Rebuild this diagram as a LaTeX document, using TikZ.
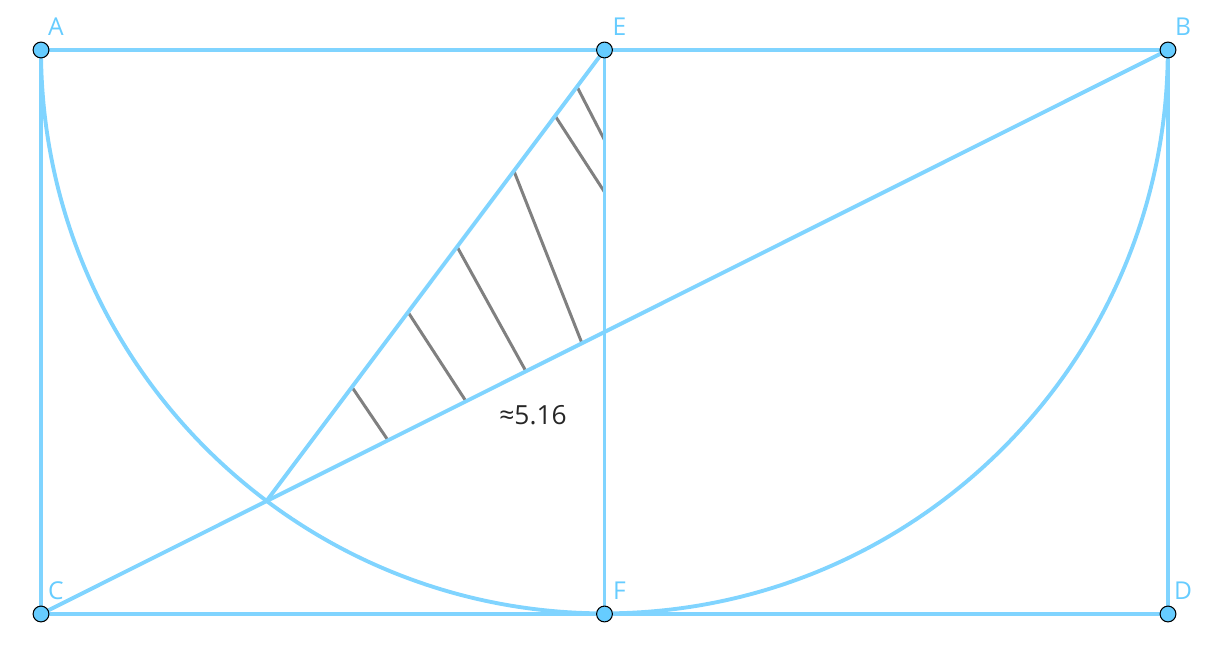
\documentclass[tikz,border=0pt]{standalone}
\usepackage{fontspec}
\setmainfont{Open Sans}
\usetikzlibrary{calc}
\definecolor{geoline}{RGB}{128,212,255}
\definecolor{geopt}{RGB}{102,204,255}
\definecolor{geolbl}{RGB}{102,204,255}
\definecolor{hatch}{RGB}{128,128,128}
\tikzset{
  segline/.style={draw=geoline, line width=2.2pt},
  hatchline/.style={draw=hatch, line width=1.7pt},
  pt/.style={circle, draw=black, line width=0.6pt, fill=geopt, inner sep=0pt, minimum size=9pt},
  lbl/.style={text=geolbl, font=\fontsize{14}{16}\selectfont, inner sep=0pt},
  valtext/.style={text=black!85, font=\fontsize{15}{18}\selectfont, inner sep=0pt}
}
\begin{document}
\begin{tikzpicture}[x=0.02cm, y=0.02cm]
\useasboundingbox (0,0) rectangle (1228,651);
% points (y up)
\coordinate (A) at (41,601);
\coordinate (E) at (604.5,601);
\coordinate (B) at (1168,601);
\coordinate (C) at (41,37);
\coordinate (F) at (604.5,37);
\coordinate (D) at (1168,37);
\coordinate (G) at ($(C)!0.2!(B)$);
% hatching
\draw[hatchline] ($(E)!0.747!(G)$) -- ($(C)!0.3079!(B)$);
\draw[hatchline] ($(E)!0.581!(G)$) -- ($(C)!0.3771!(B)$);
\draw[hatchline] ($(E)!0.436!(G)$) -- ($(C)!0.4303!(B)$);
\draw[hatchline] ($(E)!0.268!(G)$) -- ($(C)!0.4800!(B)$);
\draw[hatchline] ($(E)!0.146!(G)$) -- ($(E)!0.2518!(F)$);
\draw[hatchline] ($(E)!0.0813!(G)$) -- ($(E)!0.1596!(F)$);
% segments
\draw[segline] (A) -- (E) -- (B);
\draw[segline] (C) -- (F) -- (D);
\draw[segline] (A) -- (C);
\draw[segline] (B) -- (D);
\draw[segline] (E) -- (F);
\draw[segline] (C) -- (B);
\draw[segline] (E) -- (G);
\draw[segline] (A) arc[start angle=180, end angle=360, radius=11.27cm];
% point markers
\foreach \p in {A,E,B,C,F,D} \node[pt] (\p pt) at (\p) {};
% labels
\foreach \p in {A,E,B,C,F,D} \node[lbl] (\p lbl) at ($(\p)+(15,23)$) {\p};
\node[valtext] (val) at (533,236) {≈5.16};
\end{tikzpicture}
\end{document}
